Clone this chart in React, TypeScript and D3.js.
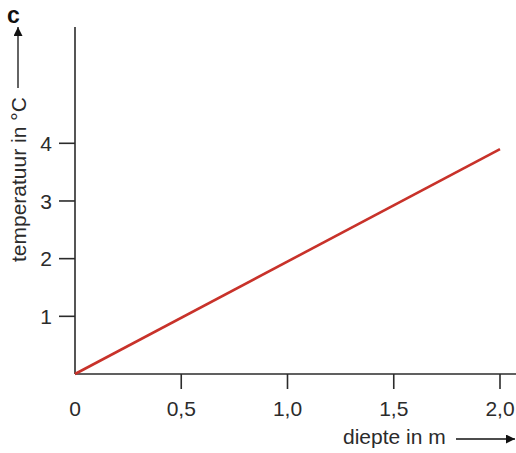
import * as d3 from "d3";

const width = 516;
const height = 453;
const Margin = { top: 27, right: 0, bottom: 79, left: 75 };

// data
const depths = [0, 2.0];
const temps = [0, 3.9];
const xTickValues = [0, 0.5, 1.0, 1.5, 2.0];
const xTickLabels = ["0", "0,5", "1,0", "1,5", "2,0"];
const yTickValues = [1, 2, 3, 4];
const yTickLabels = ["1", "2", "3", "4"];

const font = "'Liberation Sans', Arial, Helvetica, sans-serif";
const ink = "#2b2b2b";

const originY = 374;
const xScale = d3.scaleLinear().domain([0, 2]).range([Margin.left, 500]);
const yScale = d3.scaleLinear().domain([0, 4]).range([originY, 143.3]);

export default function App() {
  const points: [number, number][] = depths.map((d, i) => [d, temps[i]]);
  const line = d3
    .line<[number, number]>()
    .x((d) => xScale(d[0]))
    .y((d) => yScale(d[1]));

  return (
    <svg
      width={width}
      height={height}
      style={{ position: "absolute", left: 0, top: 0, background: "#fff" }}
      fontFamily={font}
    >
      <defs>
        <marker id="arr" viewBox="0 0 10 10" refX="10" refY="5" markerWidth="12" markerHeight="9" markerUnits="userSpaceOnUse" orient="auto">
          <path d="M0,0 L10,5 L0,10 z" fill="#111" />
        </marker>
      </defs>

      <text x={7} y={23} fontSize={23} fontWeight="bold" fill="#111">c</text>

      {/* axes */}
      <line x1={Margin.left} x2={Margin.left} y1={Margin.top} y2={originY} stroke={ink} strokeWidth={1.6} />
      <line x1={Margin.left} x2={width} y1={originY} y2={originY} stroke={ink} strokeWidth={1.6} />

      {xTickValues.map((v, i) => (
        <g key={"x" + i}>
          {i > 0 && (
            <line x1={xScale(v)} x2={xScale(v)} y1={originY} y2={originY + 15} stroke={ink} strokeWidth={1.6} />
          )}
          <text x={xScale(v)} y={416} textAnchor="middle" fontSize={21} fill={ink}>
            {xTickLabels[i]}
          </text>
        </g>
      ))}

      {yTickValues.map((v, i) => (
        <g key={"y" + i}>
          <line x1={Margin.left - 16} x2={Margin.left} y1={yScale(v)} y2={yScale(v)} stroke={ink} strokeWidth={1.6} />
          <text x={52} y={yScale(v)} dy="0.36em" textAnchor="end" fontSize={21} fill={ink}>
            {yTickLabels[i]}
          </text>
        </g>
      ))}

      <path d={line(points) ?? ""} fill="none" stroke="#c8322a" strokeWidth={2.6} />

      {/* axis titles */}
      <text x={343} y={444} fontSize={21} fill={ink}>diepte in m</text>
      <line x1={456} x2={515} y1={439} y2={439} stroke="#111" strokeWidth={1.3} markerEnd="url(#arr)" />

      <text transform="translate(26,262) rotate(-90)" fontSize={21} fill={ink}>temperatuur in °C</text>
      <line x1={18} x2={18} y1={88} y2={27} stroke="#111" strokeWidth={1.3} markerEnd="url(#arr)" />
    </svg>
  );
}
